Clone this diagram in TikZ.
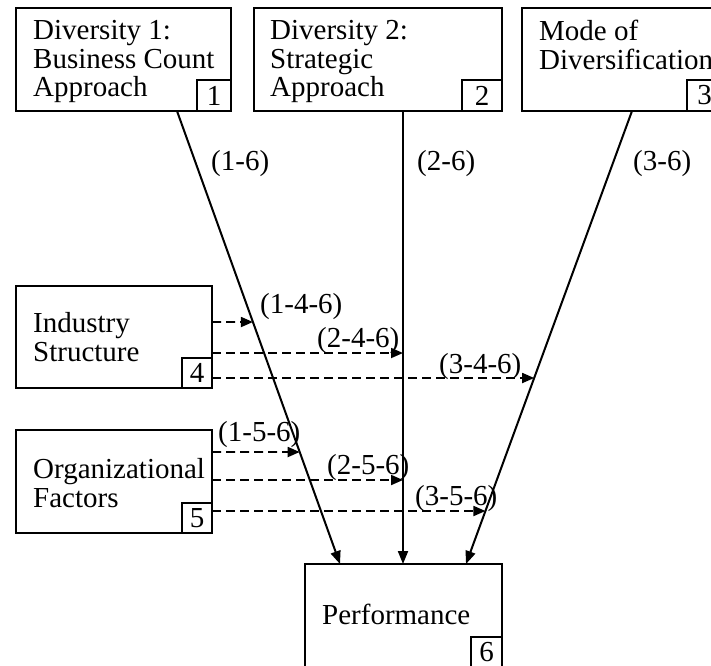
\documentclass[tikz,border=0pt]{standalone}
\usepackage{fontspec}
\setmainfont{Liberation Serif}
\usetikzlibrary{arrows.meta,calc}
\begin{document}
\begin{tikzpicture}[x=1pt,y=-1pt,
  box/.style={draw, line width=2pt, anchor=north west, inner sep=0pt, outer sep=0pt},
  numbox/.style={draw, line width=2pt, anchor=south east, inner sep=0pt, outer sep=0pt, font=\fontsize{29}{29}\selectfont},
  txt/.style={anchor=north west, inner sep=0pt, align=left, font=\fontsize{29}{28.7}\selectfont},
  lbl/.style={anchor=base west, inner sep=0pt, font=\fontsize{29}{29}\selectfont},
  arr/.style={line width=2pt, -{Triangle[length=13pt,width=10pt]}},
  darr/.style={line width=1.8pt, dash pattern=on 9pt off 5pt, -{Triangle[length=12pt,width=10pt]}}]
\useasboundingbox (0,0) rectangle (711,665);

% main boxes
\node[box, minimum width=215pt, minimum height=103pt] (b1) at (16,8) {};
\node[box, minimum width=248pt, minimum height=103pt] (b2) at (254,8) {};
\node[box, minimum width=200pt, minimum height=103pt] (b3) at (522,8) {};
\node[box, minimum width=196pt, minimum height=102pt] (b4) at (16,286) {};
\node[box, minimum width=196pt, minimum height=103pt] (b5) at (16,430) {};
\node[box, minimum width=197pt, minimum height=103pt] (b6) at (305,564) {};

% number boxes
\node[numbox, minimum width=34pt, minimum height=31pt] (n1) at (b1.south east) {1};
\node[numbox, minimum width=40pt, minimum height=31pt] (n2) at (b2.south east) {2};
\node[numbox, minimum width=35pt, minimum height=31pt] (n3) at (b3.south east) {3};
\node[numbox, minimum width=30pt, minimum height=30pt] (n4) at (b4.south east) {4};
\node[numbox, minimum width=30pt, minimum height=30pt] (n5) at (b5.south east) {5};
\node[numbox, minimum width=31pt, minimum height=30pt] (n6) at (b6.south east) {6};

% box texts
\node[txt] (t1) at (33,20) {Diversity 1:\\Business Count\\Approach};
\node[txt] (t2) at (270,20) {Diversity 2:\\Strategic\\Approach};
\node[txt] (t3) at (539,20) {Mode of\\Diversification};
\node[txt] (t4) at (33,312) {Industry\\Structure};
\node[txt] (t5) at (33,458) {Organizational\\Factors};
\node[txt] (t6) at (322,604) {Performance};

% direct paths
\coordinate (s1) at ($(b1.south west)+(161,0)$);
\coordinate (e1) at ($(b6.north west)+(35,0)$);
\coordinate (s2) at ($(b2.south west)+(149,0)$);
\coordinate (e2) at ($(b6.north west)+(98,0)$);
\coordinate (s3) at ($(b3.south west)+(110,0)$);
\coordinate (e3) at ($(b6.north west)+(161,0)$);
\draw[arr] (s1) -- (e1);
\draw[arr] (s2) -- (e2);
\draw[arr] (s3) -- (e3);

% moderator starts
\coordinate (i1) at ($(b4.north east)+(0,36)$);
\coordinate (i2) at ($(b4.north east)+(0,67)$);
\coordinate (i3) at ($(b4.north east)+(0,92)$);
\coordinate (o1) at ($(b5.north east)+(0,22)$);
\coordinate (o2) at ($(b5.north east)+(0,50)$);
\coordinate (o3) at ($(b5.north east)+(0,81)$);
\coordinate (i1r) at ($(i1)+(500,0)$);
\coordinate (i3r) at ($(i3)+(500,0)$);
\coordinate (o1r) at ($(o1)+(500,0)$);
\coordinate (o3r) at ($(o3)+(500,0)$);

% moderator targets
\coordinate (x14) at (intersection of s1--e1 and i1--i1r);
\coordinate (x24) at (s2 |- i2);
\coordinate (x34) at (intersection of s3--e3 and i3--i3r);
\coordinate (x15) at (intersection of s1--e1 and o1--o1r);
\coordinate (x25) at (s2 |- o2);
\coordinate (x35) at (intersection of s3--e3 and o3--o3r);

\draw[darr] (i1) -- (x14);
\draw[darr] (i2) -- (x24);
\draw[darr] (i3) -- (x34);
\draw[darr] (o1) -- (x15);
\draw[darr] (o2) -- (x25);
\draw[darr] (o3) -- (x35);

% labels
\node[lbl] (l16) at (211,170) {(1-6)};
\node[lbl] (l26) at (417,170) {(2-6)};
\node[lbl] (l36) at (633,170) {(3-6)};
\node[lbl] (l146) at (260,313) {(1-4-6)};
\node[lbl] (l246) at (317,347) {(2-4-6)};
\node[lbl] (l346) at (439,373) {(3-4-6)};
\node[lbl] (l156) at (218,441) {(1-5-6)};
\node[lbl] (l256) at (327,474) {(2-5-6)};
\node[lbl] (l356) at (415,505) {(3-5-6)};
\end{tikzpicture}
\end{document}
